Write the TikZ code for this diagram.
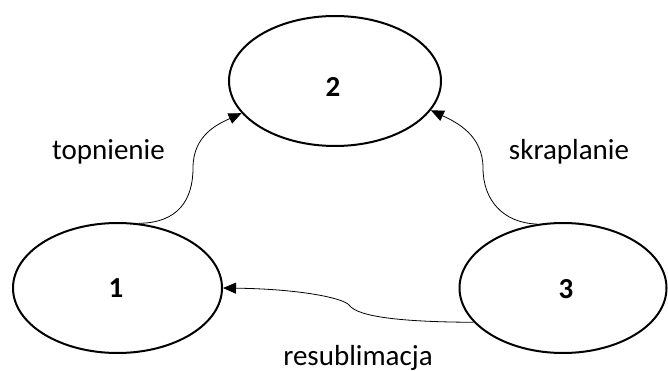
\documentclass[tikz,border=0pt]{standalone}
\usepackage{fontspec}
\setmainfont{Carlito}
\usetikzlibrary{arrows.meta,shapes.geometric}
\begin{document}
\begin{tikzpicture}[x=1pt,y=-1pt,
  phase/.style={draw, ellipse, line width=2pt, inner sep=0pt},
  conn/.style={line width=0.8pt, -{Triangle[length=13pt,width=11pt]}},
  lbl/.style={font=\fontsize{29}{35}\selectfont, anchor=base, inner sep=0pt},
  num/.style={font=\fontsize{29}{35}\selectfont\bfseries, anchor=base, inner sep=0pt}]
  \useasboundingbox (0,0) rectangle (668,371);

  % the three phase states
  \node[phase, minimum width=209pt, minimum height=130pt] (n1) at (117.5,288) {};
  \node[phase, minimum width=212pt, minimum height=130pt] (n2) at (335,81) {};
  \node[phase, minimum width=207pt, minimum height=130pt] (n3) at (563,288) {};

  \node[num] (d1) at (116,297) {1};
  \node[num] (d2) at (333,97) {2};
  \node[num] (d3) at (566,298) {3};

  % bend points of the curved connectors
  \coordinate (m12) at (193,168);
  \coordinate (m32) at (483,168);
  \coordinate (m31) at (349,305);

  % transitions
  \draw[conn] (n1.72) .. controls (178,223) and (193,200) .. (m12)
                      .. controls (193,135) and (218,124) .. (n2.199);
  \draw[conn] (n3.112) .. controls (503,223) and (483,200) .. (m32)
                       .. controls (483,135) and (456,122) .. (n2.343);
  \draw[conn] (n3.201) .. controls (410,322) and (358,318) .. (m31)
                       .. controls (343,298) and (300,289) .. (n1.east);

  % transition names
  \node[lbl] (l12) at (108.5,160) {topnienie};
  \node[lbl] (l32) at (569,160) {skraplanie};
  \node[lbl] (l31) at (358,365) {resublimacja};
\end{tikzpicture}
\end{document}
